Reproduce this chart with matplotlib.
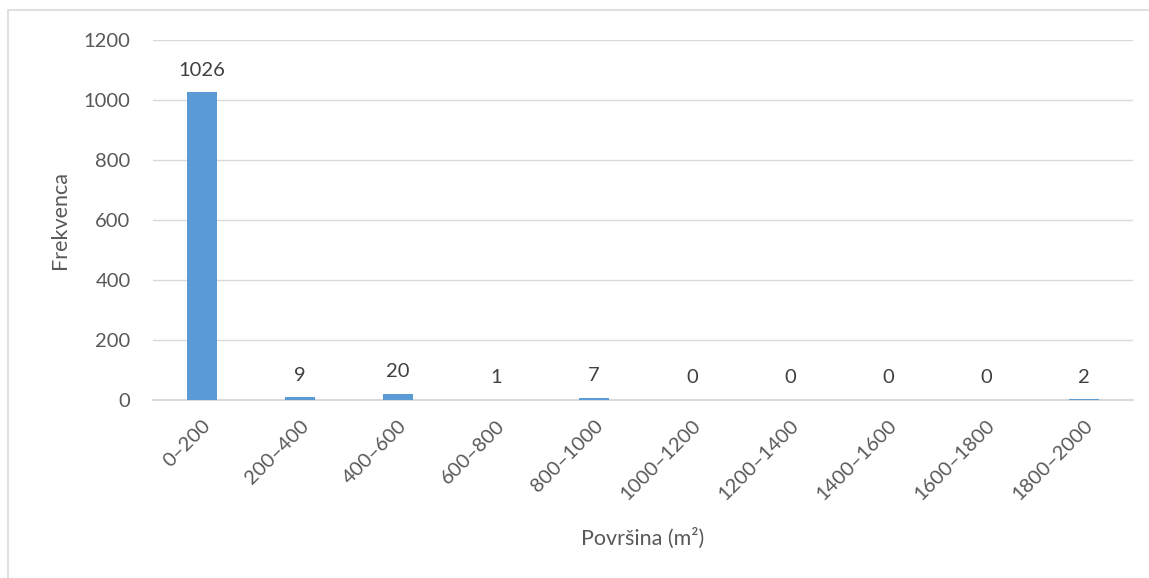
import numpy as np
import matplotlib.pyplot as plt
from matplotlib.patches import Rectangle

plt.rcParams['font.family'] = ['Lato', 'DejaVu Sans']

categories = ['0–200', '200–400', '400–600', '600–800', '800–1000',
              '1000–1200', '1200–1400', '1400–1600', '1600–1800', '1800–2000']
frequencies = [1026, 9, 20, 1, 7, 0, 0, 0, 0, 2]

fig = plt.figure(figsize=(11.49, 5.78), dpi=100)
ax = fig.add_axes([0.133, 0.308, 0.853, 0.623])

# outer chart frame
fig.patches.append(Rectangle((8 / 1149, -0.05), 1.1, 1 - 10 / 578 + 0.05,
                             transform=fig.transFigure, fill=False,
                             edgecolor='#d9d9d9', linewidth=1.2))

x = np.arange(len(categories))
ax.bar(x, frequencies, width=0.31, color='#5b9bd5', zorder=3)

for xi, v in zip(x, frequencies):
    ax.text(xi, v + 45, str(v), ha='center', va='bottom',
            fontsize=14.5, color='#404040')

ax.set_xlim(-0.5, len(categories) - 0.5)
ax.set_ylim(0, 1200)
ax.set_yticks(np.arange(0, 1201, 200))
ax.yaxis.grid(True, color='#d9d9d9', linewidth=1)
ax.set_axisbelow(True)

for side in ['top', 'right', 'left']:
    ax.spines[side].set_visible(False)
ax.spines['bottom'].set_color('#d9d9d9')
ax.spines['bottom'].set_linewidth(1.5)

ax.set_xticks(x)
ax.set_xticklabels(categories, rotation=45, ha='right', rotation_mode='anchor')
ax.tick_params(axis='both', length=0, labelsize=14.5, labelcolor='#595959')
ax.tick_params(axis='x', pad=12)
ax.tick_params(axis='y', pad=16)

ax.set_ylabel('Frekvenca', fontsize=15.5, color='#595959', labelpad=10)
ax.set_xlabel('Površina (m²)', fontsize=15.5, color='#595959', labelpad=18)

fig.savefig('out.png', dpi=100)
